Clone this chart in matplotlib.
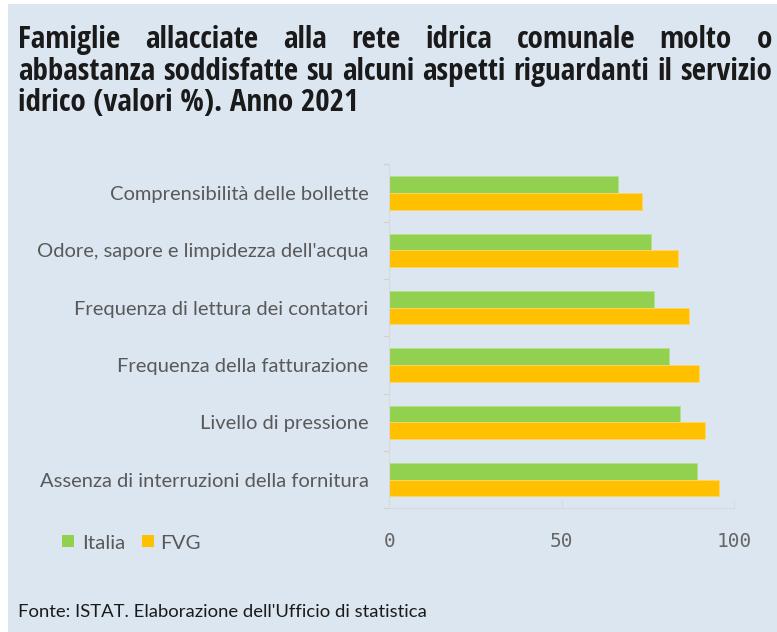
import matplotlib
matplotlib.use("Agg")
import matplotlib.pyplot as plt
from matplotlib import font_manager
import numpy as np

categories = [
    "Comprensibilità delle bollette",
    "Odore, sapore e limpidezza dell'acqua",
    "Frequenza di lettura dei contatori",
    "Frequenza della fatturazione",
    "Livello di pressione",
    "Assenza di interruzioni della fornitura",
]
italia = [66.4, 75.9, 76.8, 81.0, 84.2, 89.2]
fvg = [73.2, 83.8, 87.0, 89.7, 91.5, 95.6]
series_names = ["Italia", "FVG"]
xticks = [0, 50, 100]

title_lines = [
    "Famiglie allacciate alla rete idrica comunale molto o",
    "abbastanza soddisfatte su alcuni aspetti riguardanti il servizio",
    "idrico (valori %). Anno 2021",
]
footer = "Fonte: ISTAT. Elaborazione dell'Ufficio di statistica"

BG = "#dce6f1"
GREEN = "#92d050"
ORANGE = "#ffc000"
FONT = "Lato"
W, H, DPI = 777, 632, 100

# Title font: prefer a semi-condensed (else condensed) bold sans face if installed
TFONT = FONT
TSTRETCH = "normal"
cands = {}
for f in font_manager.fontManager.ttflist:
    if f.name in ("Open Sans", "Roboto", "Noto Sans", "Lato", "Open Sans Condensed",
                  "Roboto Condensed", "Noto Sans Condensed", "Open Sans SemiCondensed") and \
            f.weight in (600, 700, "bold", "semibold"):
        if f.stretch in ("semi-condensed", "condensed"):
            cands.setdefault(f.stretch, (f.name, f.stretch))
if "semi-condensed" in cands:
    TFONT, TSTRETCH = cands["semi-condensed"]
elif "condensed" in cands:
    TFONT, TSTRETCH = cands["condensed"]

fig = plt.figure(figsize=(W / DPI, H / DPI), dpi=DPI)
fig.patch.set_facecolor("white")
fig.patches.append(plt.Rectangle((8 / W, 0), 1, 1 - 4 / H, transform=fig.transFigure,
                                 facecolor=BG, edgecolor="none", zorder=-10))

renderer = fig.canvas.get_renderer()


def text_width_px(s, size, weight="normal", family=FONT, stretch="normal"):
    t = fig.text(0, 0, s, fontsize=size, fontweight=weight, family=family, fontstretch=stretch)
    w = t.get_window_extent(renderer=renderer).width
    t.remove()
    return w


def fit_size(s, target, weight="normal", family=FONT, stretch="normal"):
    w = text_width_px(s, 10, weight, family, stretch)
    return 10 * target / w


# Title: justified
x0, x1 = 18, 772
tsize = fit_size(title_lines[1], x1 - x0, "bold", TFONT, TSTRETCH)
baselines = [48, 80, 111]
for i, (line, yb) in enumerate(zip(title_lines, baselines)):
    words = line.split(" ")
    kw = dict(fontsize=tsize, fontweight="bold", family=TFONT, fontstretch=TSTRETCH,
              color="#1a1a1a", va="baseline", ha="left")
    if i < 2:
        widths = [text_width_px(w_, tsize, "bold", TFONT, TSTRETCH) for w_ in words]
        gap = (x1 - x0 - sum(widths)) / (len(words) - 1)
        x = x0
        for w_, wd in zip(words, widths):
            fig.text(x / W, 1 - yb / H, w_, **kw)
            x += wd + gap
    else:
        fig.text(x0 / W, 1 - yb / H, line, **kw)

# Axes
left, right, top, bottom = 389.3, 734.3, 164.3, 508.3
ax = fig.add_axes([left / W, 1 - bottom / H, (right - left) / W, (bottom - top) / H])
ax.set_facecolor("none")
n = len(categories)
y = np.arange(n)
bh = 0.29
ax.barh(y - bh / 2, italia, height=bh, color=GREEN, edgecolor="#b5e08a", linewidth=0.6,
        label=series_names[0])
ax.barh(y + bh / 2, fvg, height=bh, color=ORANGE, edgecolor="#ffd566", linewidth=0.6,
        label=series_names[1])
ax.set_xlim(0, 100)
ax.set_ylim(n - 0.5, -0.5)

lsize = fit_size(categories[5], 330)
ax.set_yticks(y)
ax.set_yticklabels(categories, fontsize=lsize, family=FONT, color="#595959")
ax.tick_params(axis="y", which="major", length=0, pad=15)
ax.set_yticks(np.arange(n + 1) - 0.5, minor=True)
ax.tick_params(axis="y", which="minor", length=4, color="#d0d0d0", width=0.8, direction="out")

ax.set_xticks(xticks)
ax.set_xticklabels([str(v) for v in xticks], fontsize=14, family="DejaVu Sans Mono",
                   color="#666666")
ax.tick_params(axis="x", length=5, direction="in", color="#d9d9d9", width=0.8, pad=17)

for s in ["top", "right"]:
    ax.spines[s].set_visible(False)
for s in ["left", "bottom"]:
    ax.spines[s].set_color("#d9d9d9")
    ax.spines[s].set_linewidth(0.8)

# Legend (manual)
leg_size = fit_size("Italia", 43)
for (xs, xt, col, name) in [(62, 82, GREEN, series_names[0]), (142, 160, ORANGE, series_names[1])]:
    fig.patches.append(plt.Rectangle((xs / W, 1 - 547 / H), 12 / W, 12 / H,
                                     transform=fig.transFigure, facecolor=col, edgecolor="none"))
    fig.text(xt / W, 1 - 549 / H, name, fontsize=leg_size, family=FONT, color="#595959",
             va="baseline", ha="left")

fsize = fit_size(footer, 409)
fig.text(18 / W, 1 - 617 / H, footer, fontsize=fsize, family=FONT, color="#1a1a1a",
         va="baseline", ha="left")

fig.savefig("out.png", dpi=DPI, facecolor=fig.get_facecolor())
